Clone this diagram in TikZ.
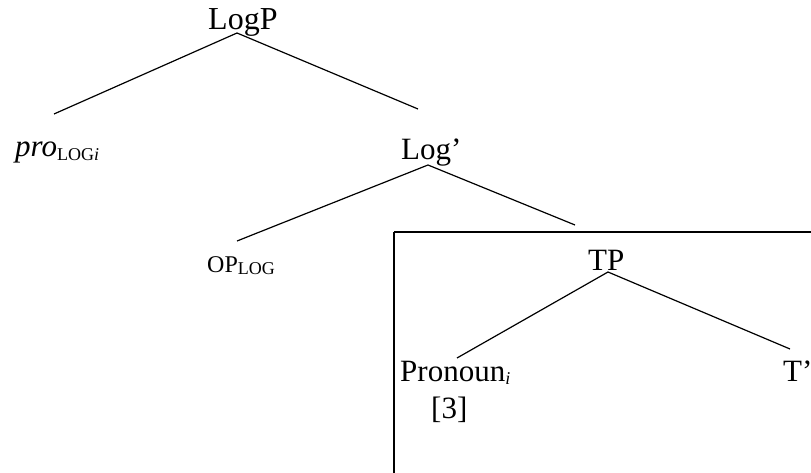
\documentclass[tikz,border=0pt]{standalone}
\usepackage{fontspec}
\setmainfont{Liberation Serif}
\newcommand{\bigfs}{\fontsize{31}{37}\selectfont}
\newcommand{\topfs}{\fontsize{32}{38}\selectfont}
\newcommand{\smallfs}{\fontsize{24}{29}\selectfont}
\newcommand{\subfs}{\fontsize{18}{21}\selectfont}
\begin{document}
\begin{tikzpicture}[x=1pt,y=-1pt,
  lbl/.style={inner sep=0pt, anchor=base west, font=\bigfs},
  slbl/.style={inner sep=0pt, anchor=base west, font=\smallfs},
  branch/.style={line width=1.2pt},
  frame/.style={line width=2.8pt}]
\useasboundingbox (0,0) rectangle (811,473);
% frame
\draw[frame] (394,232) -- (830,232);
\draw[frame] (394,232) -- (394,490);
% labels
\node[lbl, font=\topfs] (logp) at (208,30) {LogP};
\node[lbl] (pro) at (15,157) {\textit{pro}\raisebox{-0.1em}{\subfs LOG\textit{i}}};
\node[lbl] (logbar) at (401,160) {Log’};
\node[slbl] (op) at (207,272) {OP\raisebox{-0.1em}{\subfs LOG}};
\node[lbl] (tp) at (588,270) {TP};
\node[lbl] (pron) at (400,381) {Pronoun\raisebox{-0.1em}{\subfs\textit{i}}};
\node[lbl] (three) at (431,418) {[3]};
\node[lbl] (tbar) at (783,381) {T’};
% connector points
\coordinate (logp-a) at (237,33);
\coordinate (pro-t) at (54,114);
\coordinate (logbar-t) at (418,109);
\coordinate (logbar-a) at (428,165);
\coordinate (op-t) at (237,241);
\coordinate (tp-t) at (575,225);
\coordinate (tp-a) at (608,272);
\coordinate (pron-t) at (457,358);
\coordinate (tbar-t) at (790,349);
\draw[branch] (pro-t) -- (logp-a) -- (logbar-t);
\draw[branch] (op-t) -- (logbar-a) -- (tp-t);
\draw[branch] (pron-t) -- (tp-a) -- (tbar-t);
\end{tikzpicture}
\end{document}
